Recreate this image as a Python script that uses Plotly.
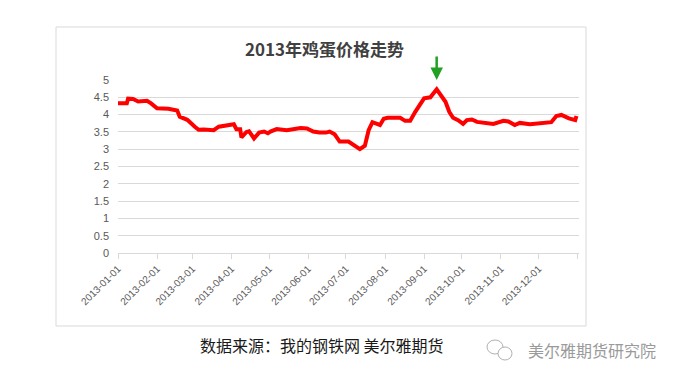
import plotly.graph_objects as go

dates = ["2013-01-01", "2013-01-08", "2013-01-09", "2013-01-13", "2013-01-17", "2013-01-24",
         "2013-01-27", "2013-02-01", "2013-02-10", "2013-02-17", "2013-02-19", "2013-02-25",
         "2013-03-03", "2013-03-06", "2013-03-10", "2013-03-18", "2013-03-22", "2013-03-28",
         "2013-04-03", "2013-04-05", "2013-04-08", "2013-04-09", "2013-04-13", "2013-04-15",
         "2013-04-19", "2013-04-23", "2013-04-27", "2013-04-30", "2013-05-02", "2013-05-07",
         "2013-05-15", "2013-05-26", "2013-05-31", "2013-06-05", "2013-06-10", "2013-06-15",
         "2013-06-18", "2013-06-22", "2013-06-26", "2013-07-03", "2013-07-07", "2013-07-12",
         "2013-07-16", "2013-07-19", "2013-07-22", "2013-07-25", "2013-07-28", "2013-07-31",
         "2013-08-03", "2013-08-13", "2013-08-17", "2013-08-21", "2013-08-25", "2013-09-01",
         "2013-09-06", "2013-09-11", "2013-09-14", "2013-09-18", "2013-09-21", "2013-09-24",
         "2013-09-28", "2013-10-02", "2013-10-05", "2013-10-09", "2013-10-13", "2013-10-21",
         "2013-10-26", "2013-11-03", "2013-11-07", "2013-11-12", "2013-11-16", "2013-11-24",
         "2013-12-05", "2013-12-11", "2013-12-15", "2013-12-19", "2013-12-25", "2013-12-30",
         "2013-12-31"]
prices = [4.33, 4.33, 4.46, 4.45, 4.38, 4.40,
          4.33, 4.18, 4.17, 4.12, 3.94, 3.85,
          3.65, 3.56, 3.57, 3.55, 3.65, 3.68,
          3.72, 3.58, 3.58, 3.34, 3.50, 3.52,
          3.31, 3.48, 3.51, 3.46, 3.51, 3.58,
          3.55, 3.61, 3.60, 3.51, 3.48, 3.48,
          3.51, 3.43, 3.22, 3.22, 3.12, 3.00,
          3.10, 3.55, 3.78, 3.75, 3.70, 3.88,
          3.91, 3.91, 3.82, 3.82, 4.08, 4.47,
          4.50, 4.73, 4.57, 4.37, 4.08, 3.91,
          3.84, 3.73, 3.84, 3.86, 3.79, 3.76,
          3.73, 3.82, 3.80, 3.70, 3.76, 3.72,
          3.76, 3.78, 3.96, 3.99, 3.89, 3.84,
          3.96]

tick_dates = ["2013-01-01", "2013-02-01", "2013-03-01", "2013-04-01", "2013-05-01", "2013-06-01",
              "2013-07-01", "2013-08-01", "2013-09-01", "2013-10-01", "2013-11-01", "2013-12-01",
              "2014-01-01"]
tick_labels = tick_dates[:-1] + [""]
y_ticks = [0, 0.5, 1, 1.5, 2, 2.5, 3, 3.5, 4, 4.5, 5]
y_labels = ["0", "0.5", "1", "1.5", "2", "2.5", "3", "3.5", "4", "4.5", "5"]

title_text = "2013年鸡蛋价格走势"
source_text = "数据来源：我的钢铁网 美尔雅期货"
brand_text = "美尔雅期货研究院"
peak_date = "2013-09-11"

# page body has an 8px margin; shift the figure to compensate
OFF = 8
W, H = 682 - OFF, 382 - OFF
PL, PR, PT, PB = 118, 579, 80, 253          # plot area in screen pixels
L, T = PL - OFF, PT - OFF
R, B = W - (PR - OFF), H - (PB - OFF)
pw, ph = PR - PL, PB - PT

def px(x):
    return (x - PL) / pw

def py(y):
    return (PB - y) / ph

fig = go.Figure()
fig.add_trace(go.Scatter(x=dates, y=prices, mode="lines",
                         line=dict(color="#ff0000", width=4), hoverinfo="skip"))

fig.update_layout(
    width=W, height=H, autosize=False,
    margin=dict(l=L, r=R, t=T, b=B, pad=0),
    paper_bgcolor="white", plot_bgcolor="white",
    showlegend=False,
    xaxis=dict(type="date", range=["2013-01-01", "2014-01-02"],
               tickmode="array", tickvals=tick_dates, ticktext=tick_labels,
               tickangle=-45, ticks="outside", ticklen=5, tickcolor="#d9d9d9",
               showline=True, linecolor="#d9d9d9", linewidth=1,
               showgrid=False, zeroline=False,
               tickfont=dict(family="Liberation Sans", size=10, color="#595959")),
    yaxis=dict(range=[0, 5], tickmode="array", tickvals=y_ticks, ticktext=y_labels,
               showgrid=True, gridcolor="#d9d9d9", gridwidth=1,
               zeroline=False, showline=False, ticks="", ticklabelstandoff=8,
               tickfont=dict(family="Liberation Sans", size=11, color="#595959")),
)

# chart frame
fig.add_shape(type="rect", xref="paper", yref="paper",
              x0=px(56), x1=px(586), y0=py(326), y1=py(27),
              line=dict(color="#d9d9d9", width=1), fillcolor="rgba(0,0,0,0)", layer="below")

# title
fig.add_annotation(text=title_text, xref="paper", yref="paper", x=px(324), y=py(48),
                   showarrow=False, xanchor="center", yanchor="middle",
                   font=dict(family="Noto Sans CJK SC", size=17, color="#404040", weight="bold"))

# peak arrow
fig.add_annotation(x=peak_date, y=5.0, xref="x", yref="y", text="", showarrow=True,
                   ax=0, ay=-25, arrowhead=2, arrowsize=1, arrowwidth=2.5,
                   arrowcolor="#22a022")

# source text
fig.add_annotation(text=source_text, xref="paper", yref="paper", x=px(322), y=py(345),
                   showarrow=False, xanchor="center", yanchor="middle",
                   font=dict(family="Noto Sans CJK SC", size=16, color="#1a1a1a"))

# watermark
fig.add_annotation(text=brand_text, xref="paper", yref="paper", x=px(592), y=py(350),
                   showarrow=False, xanchor="center", yanchor="middle",
                   font=dict(family="Noto Sans CJK SC", size=16, color="#9a9a9a"))
fig.add_shape(type="circle", xref="paper", yref="paper",
              x0=px(487), x1=px(503), y0=py(354), y1=py(340),
              line=dict(color="#b0b0b0", width=1))
fig.add_shape(type="circle", xref="paper", yref="paper",
              x0=px(498), x1=px(512), y0=py(360), y1=py(347),
              line=dict(color="#b0b0b0", width=1), fillcolor="white")

fig.write_html("out.html")
